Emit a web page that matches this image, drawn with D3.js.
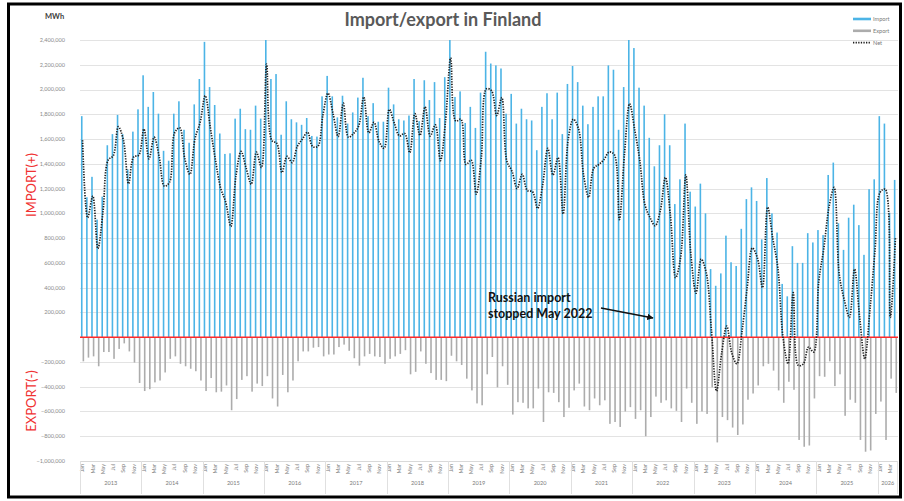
<!DOCTYPE html>
<html>
<head>
<meta charset="utf-8">
<script src="https://cdn.jsdelivr.net/npm/d3@7"></script>
<style>
body{margin:0;background:#fff;}
svg{display:block;font-family:Lato,"Liberation Sans",sans-serif;}
</style>
</head>
<body>
<script>
(function(){

//categories
var years = [2013,2014,2015,2016,2017,2018,2019,2020,2021,2022,2023,2024,2025,2026];
var monthNames = ["Jan","Feb","Mar","Apr","May","Jun","Jul","Aug","Sep","Oct","Nov","Dec"];

//monthly import, thousand MWh (Jan 2013 ... Apr 2026)
var importK = [
    1785,1130,1295,950,1135,1550,1640,1795,1640,1355,1660,1840,
    2115,1860,1980,1805,1505,1425,1805,1905,1675,1570,1880,2085,
    2385,2020,1875,1645,1480,1485,1765,1845,1680,1675,1870,1765,
    2520,2085,2125,1635,1905,1760,1735,1715,1770,1625,1620,1945,
    2110,1945,1775,1950,1725,1815,1935,2095,1785,1890,1740,1740,
    2015,1880,1760,1750,1790,2085,1745,2075,1915,2060,1770,2100,
    2405,1940,1985,1730,1860,1690,1975,2305,2210,2195,2170,1805,
    1965,1725,1845,1760,1750,1510,1860,1970,1760,1975,1640,2045,
    2190,2060,1870,1720,1860,1945,1945,2195,2160,1675,2020,2450,
    2335,2015,1870,1610,1380,1550,1800,1550,1075,1275,1725,1175,
    1055,1240,1000,550,415,515,820,605,575,875,1115,1210,
    1100,790,1285,1000,845,430,330,735,600,600,840,765,
    865,825,1310,1410,920,705,965,1070,905,665,1195,1275,
    1785,1725,1005,1270
];

//monthly export, thousand MWh (negative)
var exportK = [
    -195,-165,-155,-235,-120,-120,-175,-95,-50,-115,-205,-370,
    -435,-420,-365,-350,-285,-175,-155,-215,-235,-255,-275,-350,
    -435,-330,-445,-440,-390,-590,-500,-345,-315,-440,-375,-395,
    -315,-495,-560,-305,-445,-350,-195,-115,-115,-85,-80,-155,
    -140,-140,-80,-60,-110,-170,-230,-155,-135,-155,-160,-215,
    -175,-155,-135,-105,-300,-280,-115,-215,-290,-345,-345,-355,
    -150,-195,-225,-335,-430,-535,-550,-300,-160,-405,-235,-385,
    -625,-525,-530,-575,-575,-415,-685,-445,-450,-525,-645,-570,
    -430,-375,-560,-590,-495,-550,-510,-700,-685,-725,-600,-565,
    -660,-590,-800,-645,-480,-530,-510,-575,-595,-685,-415,-530,
    -700,-600,-620,-405,-850,-645,-670,-730,-790,-705,-505,-455,
    -390,-235,-215,-270,-430,-530,-360,-425,-830,-885,-875,-495,
    -315,-320,-195,-395,-300,-635,-505,-530,-830,-925,-915,-620,
    -520,-830,-335,-450
];

//monthly net, thousand MWh
var netK = [
    1590,965,1140,715,1015,1430,1465,1700,1590,1240,1455,1470,
    1680,1440,1615,1455,1220,1250,1650,1690,1440,1315,1605,1735,
    1950,1690,1430,1205,1090,895,1300,1500,1365,1235,1495,1370,
    2205,1590,1565,1330,1460,1410,1540,1600,1655,1540,1540,1790,
    1970,1805,1620,1890,1615,1645,1705,1940,1650,1735,1580,1525,
    1840,1725,1625,1645,1490,1805,1630,1860,1625,1715,1425,1745,
    2255,1745,1760,1395,1430,1155,1450,2005,1990,1790,1935,1420,
    1340,1200,1315,1185,1175,1040,1230,1525,1310,1450,995,1600,
    1760,1685,1310,1130,1365,1395,1435,1495,1475,950,1480,1885,
    1675,1425,1070,965,900,1020,1290,975,480,650,1310,660,
    355,630,520,60,-435,-130,90,-130,-215,50,400,720,
    640,400,1050,800,560,0,-215,360,-228,-215,-80,-120,
    450,720,1050,1210,510,300,160,550,160,-175,215,700,
    1170,1195,160,805
];

//axis ticks (the zero row has no label)
var yTicks = [-1000000,-800000,-600000,-400000,-200000,0,200000,400000,600000,
    800000,1000000,1200000,1400000,1600000,1800000,2000000,2200000,2400000];
var seriesNames = ["Import","Export","Net"];

var width = 904, height = 501;
var plotLeft = 80, plotRight = 898, plotTop = 40, plotBottom = 461;

//build month table
var data = [];
years.forEach(function(y){
    monthNames.forEach(function(m, mi){
        var i = data.length;
        if (i < importK.length){
            data.push({
                key: y + "-" + m,
                year: y,
                month: m,
                mi: mi,
                imp: importK[i] * 1000,
                exp: exportK[i] * 1000,
                net: netK[i] * 1000
            });
        }
    });
});

var svg = d3.select("body").append("svg")
    .attr("width", width)
    .attr("height", height);

//frame
svg.append("rect")
    .attr("x", 8.5).attr("y", 4)
    .attr("width", 892).attr("height", 493)
    .attr("fill", "none")
    .attr("stroke", "#000")
    .attr("stroke-width", 3);

var x = d3.scaleBand()
    .domain(data.map(function(d){ return d.key; }))
    .range([plotLeft, plotRight]);

var sub = d3.scaleBand()
    .domain(["imp","exp"])
    .range([0, x.bandwidth()])
    .paddingInner(0)
    .paddingOuter(0.6);

var y = d3.scaleLinear()
    .domain([-1000000, 2400000])
    .range([plotBottom, plotTop]);

var fmt = d3.format(",");

//gridlines
svg.selectAll(".grid")
    .data(yTicks)
    .enter()
    .append("line")
    .attr("class", "grid")
    .attr("x1", plotLeft).attr("x2", plotRight)
    .attr("y1", function(d){ return Math.round(y(d)) + 0.5; })
    .attr("y2", function(d){ return Math.round(y(d)) + 0.5; })
    .attr("stroke", "#e3e3e3")
    .attr("stroke-width", 1);

//y tick labels
svg.selectAll(".ylab")
    .data(yTicks.filter(function(d){ return d != 0; }))
    .enter()
    .append("text")
    .attr("class", "ylab")
    .attr("x", 65)
    .attr("y", function(d){ return y(d); })
    .attr("dy", "0.35em")
    .attr("text-anchor", "end")
    .attr("font-size", 5.6)
    .attr("fill", "#8a8a8a")
    .text(function(d){ return fmt(d); });

svg.append("text")
    .attr("x", 45).attr("y", 19)
    .attr("font-size", 7.5)
    .attr("font-weight", "bold")
    .attr("fill", "#404040")
    .text("MWh");

//clip for bars above the axis max
svg.append("clipPath").attr("id", "plotclip")
    .append("rect")
    .attr("x", plotLeft).attr("y", plotTop)
    .attr("width", plotRight - plotLeft)
    .attr("height", plotBottom - plotTop);

var bars = svg.append("g").attr("clip-path", "url(#plotclip)");

bars.selectAll(".imp")
    .data(data)
    .enter()
    .append("rect")
    .attr("class", "imp")
    .attr("x", function(d){ return x(d.key) + sub("imp"); })
    .attr("width", sub.bandwidth())
    .attr("y", function(d){ return y(d.imp); })
    .attr("height", function(d){ return y(0) - y(d.imp); })
    .attr("fill", "#4cb4e6");

bars.selectAll(".exp")
    .data(data)
    .enter()
    .append("rect")
    .attr("class", "exp")
    .attr("x", function(d){ return x(d.key) + sub("exp"); })
    .attr("width", sub.bandwidth())
    .attr("y", y(0))
    .attr("height", function(d){ return y(d.exp) - y(0); })
    .attr("fill", "#acacac");

//zero line
svg.append("line")
    .attr("x1", plotLeft).attr("x2", plotRight)
    .attr("y1", y(0)).attr("y2", y(0))
    .attr("stroke", "#ff2a2a")
    .attr("stroke-width", 1.5);

//net line, smoothed
var netLine = d3.line()
    .x(function(d){ return x(d.key) + x.bandwidth() / 2; })
    .y(function(d){ return y(d.net); })
    .curve(d3.curveCatmullRom.alpha(0.5));

svg.append("path")
    .datum(data)
    .attr("d", netLine)
    .attr("fill", "none")
    .attr("stroke", "#1e1e1e")
    .attr("stroke-width", 1.7)
    .attr("stroke-dasharray", "1.3,1.3");

//category axis
svg.append("line")
    .attr("x1", plotLeft).attr("x2", plotRight)
    .attr("y1", plotBottom + 0.5).attr("y2", plotBottom + 0.5)
    .attr("stroke", "#d9d9d9");

svg.selectAll(".mlab")
    .data(data.filter(function(d){ return d.mi % 2 == 0; }))
    .enter()
    .append("text")
    .attr("class", "mlab")
    .attr("transform", function(d){
        return "translate(" + (x(d.key) + x.bandwidth() / 2) + "," + (plotBottom + 3) + ") rotate(-90)";
    })
    .attr("dy", "0.35em")
    .attr("text-anchor", "end")
    .attr("font-size", 5.4)
    .attr("fill", "#7a7a7a")
    .text(function(d){ return d.month; });

var yearGroups = years.map(function(yr){
    var ms = data.filter(function(d){ return d.year == yr; });
    return {year: yr, x0: x(ms[0].key), x1: x(ms[ms.length - 1].key) + x.bandwidth()};
});

svg.selectAll(".ysep")
    .data(yearGroups)
    .enter()
    .append("line")
    .attr("class", "ysep")
    .attr("x1", function(d){ return Math.round(d.x0) + 0.5; })
    .attr("x2", function(d){ return Math.round(d.x0) + 0.5; })
    .attr("y1", plotBottom).attr("y2", 494)
    .attr("stroke", "#e0e0e0");

svg.append("line")
    .attr("x1", plotRight - 0.5).attr("x2", plotRight - 0.5)
    .attr("y1", plotBottom).attr("y2", 494)
    .attr("stroke", "#e0e0e0");

svg.selectAll(".yrlab")
    .data(yearGroups)
    .enter()
    .append("text")
    .attr("class", "yrlab")
    .attr("x", function(d){ return (d.x0 + d.x1) / 2; })
    .attr("y", 485)
    .attr("text-anchor", "middle")
    .attr("font-size", 5.6)
    .attr("fill", "#7a7a7a")
    .text(function(d){ return d.year; });

//title
svg.append("text")
    .attr("x", 443).attr("y", 26)
    .attr("text-anchor", "middle")
    .attr("font-size", 18)
    .attr("font-weight", "bold")
    .attr("fill", "#595959")
    .text("Import/export in Finland");

//side labels
svg.append("text")
    .attr("transform", "translate(36,185) rotate(-90)")
    .attr("text-anchor", "middle")
    .attr("font-size", 13)
    .attr("fill", "#f03232")
    .text("IMPORT(+)");

svg.append("text")
    .attr("transform", "translate(36,401) rotate(-90)")
    .attr("text-anchor", "middle")
    .attr("font-size", 13)
    .attr("fill", "#f03232")
    .text("EXPORT(-)");

//legend
var legend = svg.selectAll(".legend")
    .data(seriesNames)
    .enter()
    .append("g")
    .attr("class", "legend")
    .attr("transform", function(d, i){ return "translate(853," + (19 + i * 11.8) + ")"; });

legend.append("line")
    .attr("x1", 0).attr("x2", 18)
    .attr("stroke", function(d, i){ return ["#4cb4e6","#acacac","#1e1e1e"][i]; })
    .attr("stroke-width", function(d, i){ return i == 2 ? 1.6 : 2.6; })
    .attr("stroke-dasharray", function(d, i){ return i == 2 ? "1.3,1.3" : null; });

legend.append("text")
    .attr("x", 20)
    .attr("dy", "0.35em")
    .attr("font-size", 5.6)
    .attr("fill", "#7a7a7a")
    .text(function(d){ return d; });

//annotation
var note = svg.append("text")
    .attr("x", 488).attr("y", 302)
    .attr("font-size", 12.5)
    .attr("font-weight", "bold")
    .attr("fill", "#111");
note.append("tspan").attr("x", 488).text("Russian import");
note.append("tspan").attr("x", 488).attr("dy", 16).text("stopped May 2022");

svg.append("defs").append("marker")
    .attr("id", "arrow")
    .attr("viewBox", "0 0 10 10")
    .attr("refX", 9).attr("refY", 5)
    .attr("markerWidth", 4).attr("markerHeight", 4)
    .attr("orient", "auto")
    .append("path")
    .attr("d", "M0,0L10,5L0,10z")
    .attr("fill", "#111");

svg.append("line")
    .attr("x1", 601).attr("y1", 308)
    .attr("x2", 653).attr("y2", 318)
    .attr("stroke", "#111")
    .attr("stroke-width", 1.6)
    .attr("marker-end", "url(#arrow)");

})();
</script>
</body>
</html>
